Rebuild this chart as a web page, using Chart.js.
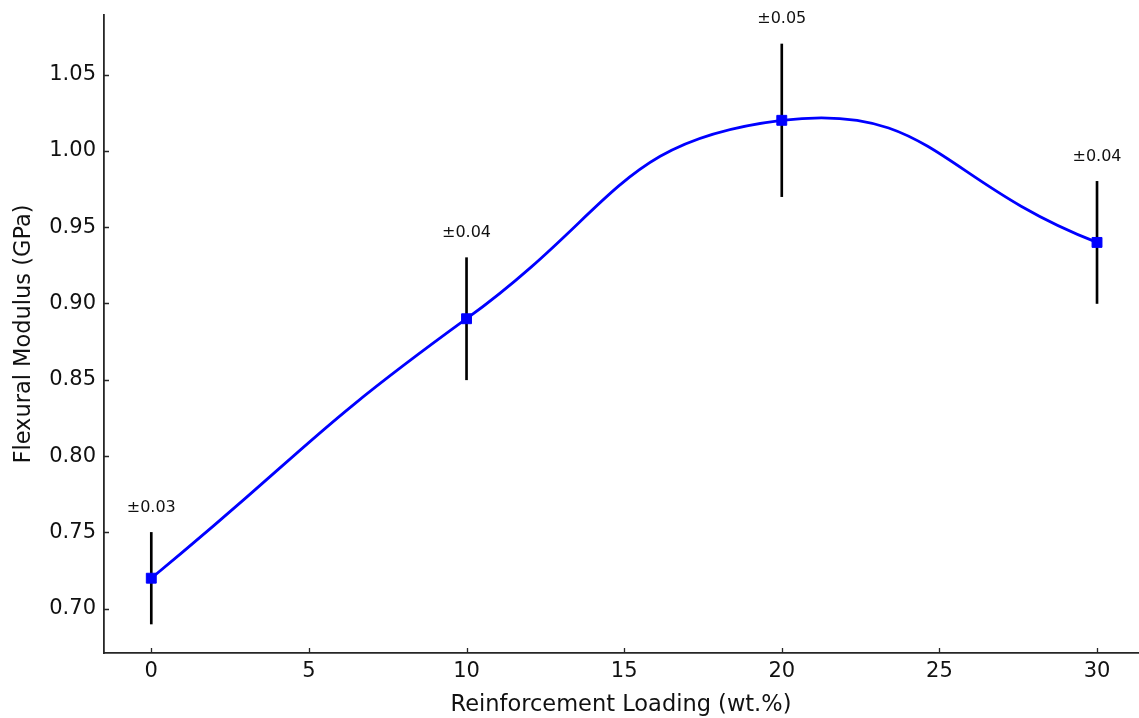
<!DOCTYPE html>
<html>
<head>
<meta charset="utf-8">
<script src="https://cdn.jsdelivr.net/npm/chart.js@4/dist/chart.umd.min.js"></script>
<style>
  html, body { margin: 0; padding: 0; background: #fff; overflow: hidden; }
  #wrap { width: 1146px; height: 718px; position: relative; }
</style>
</head>
<body>
<div id="wrap"><canvas id="modulusCtx"></canvas></div>
<script>
// reinforcement loading (wt.%) and measured flexural modulus (GPa)
var loads = [0, 10, 20, 30]
var modulus = [0.72, 0.89, 1.02, 0.94]
var errors = [0.03, 0.04, 0.05, 0.04]

var xTicks = [0, 5, 10, 15, 20, 25, 30]
var yTicks = [0.70, 0.75, 0.80, 0.85, 0.90, 0.95, 1.00, 1.05]

var spineColor = '#262626'
var textColor = '#111111'
var fontFamily = '"DejaVu Sans", sans-serif'

// short tick marks pointing into the plot, like the original
var innerTicks = {
    id: 'innerTicks',
    afterDatasetsDraw: function(chart) {
        var ctx = chart.ctx
        var xs = chart.scales.x
        var ys = chart.scales.y
        var area = chart.chartArea
        ctx.save()
        ctx.strokeStyle = spineColor
        ctx.lineWidth = 1.3
        ctx.beginPath()
        xTicks.forEach(function(t) {
            var px = Math.round(xs.getPixelForValue(t)) + 0.5
            ctx.moveTo(px, area.bottom)
            ctx.lineTo(px, area.bottom - 5)
        })
        yTicks.forEach(function(t) {
            var py = Math.round(ys.getPixelForValue(t)) + 0.5
            ctx.moveTo(area.left, py)
            ctx.lineTo(area.left + 5, py)
        })
        ctx.stroke()
        ctx.restore()
    }
}

// "±err" labels above each error bar
var errLabels = {
    id: 'errLabels',
    afterDatasetsDraw: function(chart) {
        var ctx = chart.ctx
        var xs = chart.scales.x
        var ys = chart.scales.y
        ctx.save()
        ctx.font = '16px ' + fontFamily
        ctx.fillStyle = textColor
        ctx.textAlign = 'center'
        ctx.textBaseline = 'middle'
        loads.forEach(function(x, i) {
            var px = xs.getPixelForValue(x)
            var py = ys.getPixelForValue(modulus[i] + errors[i])
            ctx.fillText('\u00b1' + errors[i].toFixed(2), px, py - 25)
        })
        ctx.restore()
    }
}

var curve = loads.map(function(x, i) { return {x: x, y: modulus[i]} })
var bars = loads.map(function(x, i) {
    return {x: x, y: [modulus[i] - errors[i], modulus[i] + errors[i]]}
})

new Chart(document.getElementById('modulusCtx'), {
    type: 'scatter',
    data: {
        datasets: [
            {
                type: 'line',
                label: 'Flexural Modulus',
                data: curve,
                borderColor: '#0000ff',
                backgroundColor: '#0000ff',
                borderWidth: 2.8,
                tension: 0.5,
                pointStyle: 'rect',
                pointRadius: 7,
                pointBorderWidth: 1,
                pointBorderColor: '#0000ff',
                pointBackgroundColor: '#0000ff',
                fill: false,
                order: 0
            },
            {
                type: 'bar',
                label: 'Error',
                data: bars,
                backgroundColor: '#000000',
                borderWidth: 0,
                barThickness: 2,
                order: 1
            }
        ]
    },
    options: {
        responsive: true,
        maintainAspectRatio: false,
        animation: false,
        layout: { padding: { top: 15, right: 0, left: 0, bottom: 0 } },
        plugins: {
            legend: { display: false },
            tooltip: { enabled: false },
            title: { display: false }
        },
        scales: {
            x: {
                type: 'linear',
                min: -1.5,
                max: 31.3,
                offset: false,
                grid: { display: false, drawTicks: false },
                border: { display: true, color: spineColor, width: 1.8 },
                afterBuildTicks: function(scale) {
                    scale.ticks = xTicks.map(function(v) { return {value: v} })
                },
                afterFit: function(scale) {
                    scale.height = 65
                    scale.paddingLeft = 0
                    scale.paddingRight = 0
                },
                ticks: {
                    color: textColor,
                    padding: 6,
                    maxRotation: 0,
                    font: { family: fontFamily, size: 21 },
                    callback: function(v) { return String(v) }
                },
                title: {
                    display: true,
                    text: 'Reinforcement Loading (wt.%)',
                    color: textColor,
                    padding: { top: 0, bottom: 0 },
                    font: { family: fontFamily, size: 22.5, lineHeight: 1.1 }
                }
            },
            y: {
                type: 'linear',
                min: 0.671,
                max: 1.089,
                grid: { display: false, drawTicks: false },
                border: { display: true, color: spineColor, width: 1.8 },
                afterBuildTicks: function(scale) {
                    scale.ticks = yTicks.map(function(v) { return {value: v} })
                },
                afterFit: function(scale) {
                    scale.width = 104
                    scale.paddingTop = 0
                    scale.paddingBottom = 0
                },
                ticks: {
                    color: textColor,
                    padding: 8,
                    font: { family: fontFamily, size: 21 },
                    callback: function(v) { return Number(v).toFixed(2) }
                },
                title: {
                    display: true,
                    text: 'Flexural Modulus (GPa)',
                    color: textColor,
                    padding: { top: 10.5, bottom: 0 },
                    font: { family: fontFamily, size: 22.5 }
                }
            }
        }
    },
    plugins: [innerTicks, errLabels]
})
</script>
</body>
</html>
